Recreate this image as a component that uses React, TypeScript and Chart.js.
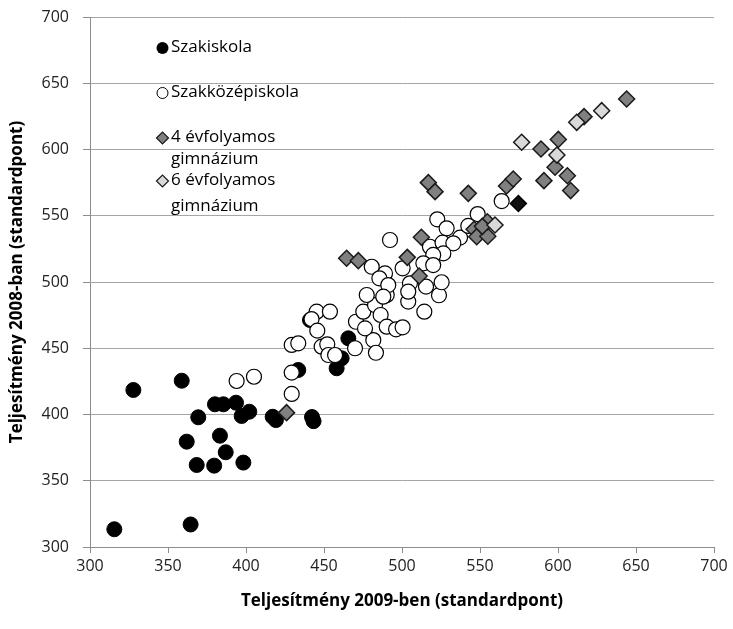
import React, { useEffect, useRef } from "react";
import { Chart, registerables } from "chart.js";

Chart.register(...registerables);

// Szakiskola (black circles)
const szakiskolaX = [315.6, 327.8, 358.8, 364.5, 362, 369.4, 368.4, 380.1, 385.5, 393.6, 397.2, 402.1, 383.3, 387, 379.6, 398.3, 417.1, 419.2, 442.3, 443.3, 433.5, 458.1, 461.3, 465.6, 441];
const szakiskolaY = [313.4, 418.5, 425.5, 317, 379.5, 397.9, 361.9, 407.7, 407.7, 408.9, 398.9, 402.1, 384, 371.5, 361.4, 363.7, 398.3, 395.8, 398.1, 395, 433.6, 434.9, 442.4, 457.5, 471.3];

// Szakközépiskola (white circles)
const szakkozepX = [394, 405.1, 429.3, 429.3, 429.3, 433.5, 445.3, 453.8, 442, 445.7, 448.5, 452.1, 452.8, 457.1, 469.9, 481.6, 483.3, 470.5, 476.3, 475.2, 482.7, 486.3, 490.2, 496.2, 500.4, 504, 514.3, 523.7, 563.9, 548.5, 522.6, 528.6, 492.3, 537.2, 542.5, 517.9, 526, 532.9, 526.5, 520, 513.7, 520, 500.4, 489.1, 505.1, 525.4, 515.4, 490.2, 480.6, 485.5, 491.2, 477.4, 488, 504];
const szakkozepY = [425.3, 428.5, 431.6, 415.5, 452.5, 453.7, 477.6, 477.6, 472, 463.3, 451.2, 453, 444.9, 444.9, 450, 456.2, 446.6, 470, 465, 477.6, 482.6, 475.1, 466.3, 464.3, 465.8, 485.2, 477.6, 490, 561.1, 551.3, 547.3, 540.5, 531.7, 533.5, 542.3, 526.6, 529.7, 529.2, 521.6, 520.4, 514.1, 512.8, 510.3, 506.5, 499, 499.8, 496.5, 490.2, 511.5, 502.8, 497.7, 490.2, 488.9, 492.7];

// 4 évfolyamos gimnázium (grey diamonds)
const gimn4X = [426, 464.5, 472, 503.4, 511, 512.4, 516.9, 521.2, 542.5, 546.2, 547.9, 555, 554.7, 551.5, 567, 571.3, 589.1, 591, 598.1, 600.2, 606, 608.1, 616.7, 644];
const gimn4Y = [401.4, 517.9, 516.1, 518.6, 504.5, 533.8, 575, 568.2, 566.9, 539.8, 534.2, 534.5, 545.5, 542, 572.5, 577.7, 600.4, 576.5, 586.6, 607.6, 580.2, 569, 624.8, 638.1];

// 6 évfolyamos gimnázium (light diamonds)
const gimn6X = [559.6, 576.7, 599.3, 612, 628];
const gimn6Y = [543, 605.5, 595.8, 620.5, 629.3];

// single dark diamond
const darkX = [574.6];
const darkY = [559.2];

const axisTicks = [300, 350, 400, 450, 500, 550, 600, 650, 700];
const xTitle = "Teljesítmény 2009-ben (standardpont)";
const yTitle = "Teljesítmény 2008-ban (standardpont)";
const legendLabels = [["Szakiskola"], ["Szakközépiskola"], ["4 évfolyamos", "gimnázium"], ["6 évfolyamos", "gimnázium"]];

const pts = (xs: number[], ys: number[]) => xs.map((x, i) => ({ x, y: ys[i] }));

const FONT = "'Open Sans', Lato, sans-serif";

const legendPlugin = {
  id: "insideLegend",
  afterDatasetsDraw(chart: any) {
    const ctx = chart.ctx;
    ctx.save();
    ctx.font = `17px ${FONT}`;
    ctx.fillStyle = "#000";
    ctx.textBaseline = "middle";
    ctx.textAlign = "left";
    const mx = 162.5;
    const tx = 171;
    const rows = [
      { y: 48, lines: [47] },
      { y: 93, lines: [92] },
      { y: 138, lines: [137, 159] },
      { y: 181, lines: [180, 206] },
    ];
    rows.forEach((r, i) => {
      ctx.beginPath();
      if (i === 0) {
        ctx.arc(mx, r.y, 6, 0, Math.PI * 2);
        ctx.fillStyle = "#000";
        ctx.fill();
      } else if (i === 1) {
        ctx.arc(mx, r.y, 5.5, 0, Math.PI * 2);
        ctx.fillStyle = "#fff";
        ctx.fill();
        ctx.lineWidth = 1;
        ctx.strokeStyle = "#000";
        ctx.stroke();
      } else {
        const h = 6;
        ctx.moveTo(mx - h, r.y);
        ctx.lineTo(mx, r.y - h);
        ctx.lineTo(mx + h, r.y);
        ctx.lineTo(mx, r.y + h);
        ctx.closePath();
        ctx.fillStyle = i === 2 ? "#808080" : "#d9d9d9";
        ctx.fill();
        ctx.lineWidth = 1.2;
        ctx.strokeStyle = "#1a1a1a";
        ctx.stroke();
      }
      ctx.fillStyle = "#000";
      legendLabels[i].forEach((txt, j) => {
        ctx.fillText(txt, tx, r.lines[j]);
      });
    });
    ctx.restore();
  },
};

export default function App() {
  const ref = useRef<HTMLCanvasElement | null>(null);
  useEffect(() => {
    if (!ref.current) return;
    const tickFont = { family: FONT, size: 16 };
    const titleFont = { family: FONT, size: 17, weight: "bold" as const };
    const chart = new Chart(ref.current, {
      type: "scatter",
      data: {
        datasets: [
          {
            label: "Szakiskola",
            data: pts(szakiskolaX, szakiskolaY),
            pointStyle: "circle",
            pointRadius: 7.5,
            backgroundColor: "#000",
            borderColor: "#000",
            borderWidth: 1,
            order: 5,
          },
          {
            label: "Szakközépiskola",
            data: pts(szakkozepX, szakkozepY),
            pointStyle: "circle",
            pointRadius: 7.5,
            backgroundColor: "#fff",
            borderColor: "#000",
            borderWidth: 1.2,
            order: 4,
          },
          {
            label: "4 évfolyamos gimnázium",
            data: pts(gimn4X, gimn4Y),
            pointStyle: "rectRot",
            pointRadius: 8,
            backgroundColor: "#808080",
            borderColor: "#1a1a1a",
            borderWidth: 1.5,
            order: 3,
          },
          {
            label: "6 évfolyamos gimnázium",
            data: pts(gimn6X, gimn6Y),
            pointStyle: "rectRot",
            pointRadius: 8,
            backgroundColor: "#d9d9d9",
            borderColor: "#1a1a1a",
            borderWidth: 1.5,
            order: 2,
          },
          {
            label: "",
            data: pts(darkX, darkY),
            pointStyle: "rectRot",
            pointRadius: 8,
            backgroundColor: "#111",
            borderColor: "#000",
            borderWidth: 1.5,
            order: 1,
          },
        ],
      },
      options: {
        responsive: false,
        animation: false,
        layout: { padding: { left: 0, right: 19, top: 17, bottom: 0 } },
        plugins: { legend: { display: false }, tooltip: { enabled: false } },
        scales: {
          x: {
            type: "linear",
            min: 300,
            max: 700,
            afterBuildTicks: (s: any) => {
              s.ticks = axisTicks.map((v) => ({ value: v }));
            },
            ticks: { font: tickFont, color: "#222", padding: 4 },
            grid: { drawOnChartArea: false, drawTicks: true, tickLength: 6, color: "#8c8c8c" },
            border: { display: true, color: "#8c8c8c" },
            title: { display: true, text: xTitle, font: titleFont, color: "#000", padding: { top: 0, bottom: 18 } },
            afterFit: (s: any) => {
              s.height = 82;
            },
          },
          y: {
            type: "linear",
            min: 300,
            max: 700,
            afterBuildTicks: (s: any) => {
              s.ticks = axisTicks.map((v) => ({ value: v }));
            },
            ticks: { font: tickFont, color: "#222", padding: 14 },
            grid: { drawOnChartArea: true, drawTicks: true, tickLength: 7, color: "#a6a6a6", tickColor: "#8c8c8c" },
            border: { display: true, color: "#8c8c8c" },
            title: { display: true, text: yTitle, font: titleFont, color: "#000", padding: { top: 7, bottom: 0 } },
            afterFit: (s: any) => {
              s.width = 90;
              s.paddingTop = 0;
              s.paddingBottom = 0;
            },
          },
        },
      },
      plugins: [legendPlugin],
    });
    return () => chart.destroy();
  }, []);
  return (
    <div style={{ position: "fixed", left: 0, top: 0, width: 733, height: 629, background: "#fff" }}>
      <canvas ref={ref} width={733} height={629} style={{ width: 733, height: 629, display: "block" }} />
    </div>
  );
}
